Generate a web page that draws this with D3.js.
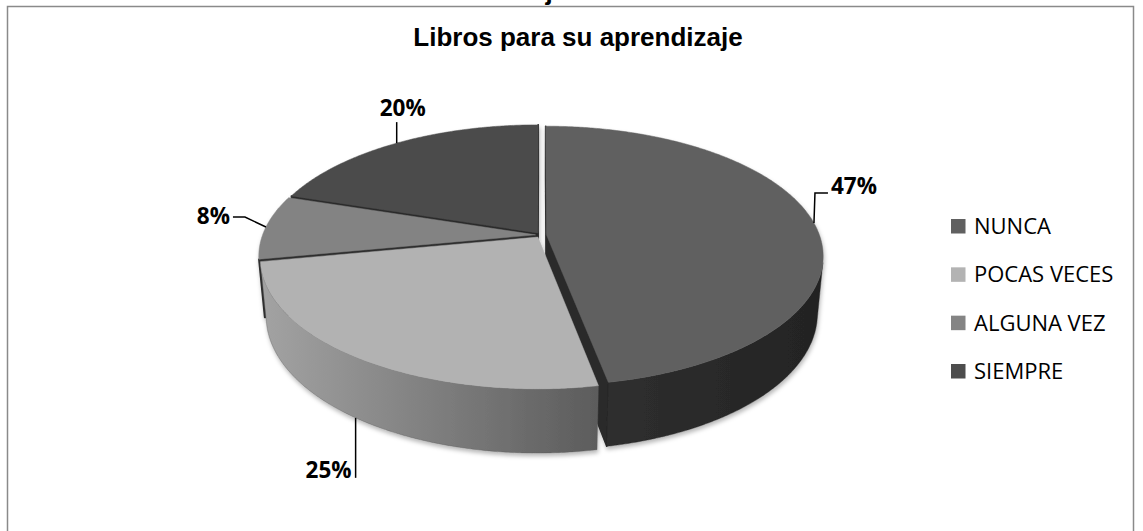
<!DOCTYPE html>
<html><head><meta charset="utf-8">
<script src="https://cdn.jsdelivr.net/npm/d3@7"></script>
<style>html,body{margin:0;padding:0;background:#fff;} svg{display:block;}</style>
</head><body>
<svg id="chart" width="1143" height="531"></svg>
<script>
// ---- data ----
const categories = ["NUNCA", "POCAS VECES", "ALGUNA VEZ", "SIEMPRE"];
const values = [47, 25, 8, 20];
const labelTexts = ["47%", "25%", "8%", "20%"];
const titleText = "Libros para su aprendizaje";

// ---- styles ----
const topColors = ["#616161", "#b2b2b2", "#838383", "#4c4c4c"];
const legendColors = ["#606060", "#b3b3b3", "#848484", "#4d4d4d"];
const sideStops = [["#2f2f2f", "#232323"], ["#a3a3a3", "#5c5c5c"], ["#6a6a6a", "#5a5a5a"], ["#3a3a3a", "#333333"]];
const faceColors = ["#2a2a2a", "#2d2d2d", "#2e2e2e", "#2a2a2a"];

const svg = d3.select("#chart");
const defs = svg.append("defs");
const shadow = defs.append("filter").attr("id", "shadow").attr("x", "-10%").attr("y", "-10%").attr("width", "120%").attr("height", "130%");
shadow.append("feDropShadow").attr("dx", 1).attr("dy", 3).attr("stdDeviation", 2.2).attr("flood-color", "#000").attr("flood-opacity", 0.28);

// frame
svg.append("rect").attr("x", 7.5).attr("y", 6.5).attr("width", 1126).attr("height", 560)
  .attr("fill", "none").attr("stroke", "#8a8a8a").attr("stroke-width", 1.5);

// clipped heading glyph above the frame
svg.append("text").attr("x", 549).attr("y", 0).attr("text-anchor", "middle")
  .attr("font-family", "Liberation Sans, Arial, sans-serif").attr("font-weight", "bold").attr("font-size", 26)
  .text("j");

// title
svg.append("text").attr("x", 578).attr("y", 46).attr("text-anchor", "middle")
  .attr("font-family", "Liberation Sans, Arial, sans-serif").attr("font-weight", "bold").attr("font-size", 26)
  .attr("fill", "#000").text(titleText);

// ---- 3D pie projection ----
const sp = 0.4626, cp = Math.sqrt(1 - sp * sp);
const R = 273, cx = 541, cy = 235, D = 5.45, depth = 0.24, explode = 0.02;
const camY = D * cp;
function proj(X, Y, Z) {
  const v = Y * sp - Z * cp, w = Y * cp + Z * sp, k = D / (D - w);
  return [cx + R * X * k, cy + R * v * k];
}

const arcs = d3.pie().sort(null).value(d => d)(values);
const slices = arcs.map((a, i) => {
  const m = (a.startAngle + a.endAngle) / 2;
  return { i, a0: a.startAngle, a1: a.endAngle, m,
    ox: explode * Math.sin(m), oy: -explode * Math.cos(m) };
});

const pieG = svg.append("g").attr("filter", "url(#shadow)");
const line = d3.line();
const STEP = Math.PI / 360;

function sampleAngles(a0, a1) {
  const n = Math.max(2, Math.ceil((a1 - a0) / STEP));
  return d3.range(n + 1).map(j => a0 + (a1 - a0) * j / n);
}

const order = slices.slice().sort((p, q) => (p.oy - 0.5 * Math.cos(p.m)) - (q.oy - 0.5 * Math.cos(q.m)));

order.forEach(s => {
  const g = pieG.append("g");
  const rim = (t, Z) => proj(s.ox + Math.sin(t), s.oy - Math.cos(t), Z);
  // radial faces
  [[s.a0, -1], [s.a1, 1]].forEach(([a, sgn]) => {
    const nX = sgn * Math.cos(a), nY = sgn * Math.sin(a);
    const dot = nX * (0 - s.ox) + nY * (camY - s.oy);
    if (dot > 0) {
      const pts = [proj(s.ox, s.oy, 0), rim(a, 0), rim(a, -depth), proj(s.ox, s.oy, -depth)];
      g.append("path").attr("d", line(pts) + "Z").attr("fill", faceColors[s.i])
        .attr("stroke", faceColors[s.i]).attr("stroke-width", 1.6).attr("stroke-linejoin", "round");
    }
  });
  // outer side, visible part only
  const vis = sampleAngles(s.a0, s.a1).filter(t => {
    const nX = Math.sin(t), nY = -Math.cos(t);
    const Px = s.ox + nX, Py = s.oy + nY;
    return nX * (0 - Px) + nY * (camY - Py) > 0;
  });
  if (vis.length > 1) {
    const topArc = vis.map(t => rim(t, 0));
    const botArc = vis.slice().reverse().map(t => rim(t, -depth));
    const pts = topArc.concat(botArc);
    const xs = pts.map(p => p[0]);
    const gid = "side" + s.i;
    const gr = defs.append("linearGradient").attr("id", gid).attr("gradientUnits", "userSpaceOnUse")
      .attr("x1", d3.min(xs)).attr("x2", d3.max(xs)).attr("y1", 0).attr("y2", 0);
    gr.append("stop").attr("offset", 0).attr("stop-color", sideStops[s.i][0]);
    gr.append("stop").attr("offset", 1).attr("stop-color", sideStops[s.i][1]);
    g.append("path").attr("d", line(pts) + "Z").attr("fill", `url(#${gid})`)
      .attr("stroke", sideStops[s.i][1]).attr("stroke-width", 0.4);
  }
  // top face
  const topPts = [proj(s.ox, s.oy, 0)].concat(sampleAngles(s.a0, s.a1).map(t => rim(t, 0)));
  g.append("path").attr("d", line(topPts) + "Z").attr("fill", topColors[s.i])
    .attr("stroke", topColors[s.i]).attr("stroke-width", 0.5).attr("stroke-linejoin", "round");
});

// ---- data labels with leader lines ----
const labG = svg.append("g");
const labFont = "Open Sans, Noto Sans, sans-serif";
slices.forEach(s => {
  const onBottom = s.i === 1;
  const t = onBottom ? s.m + 0.035 : s.m;
  const A = proj(s.ox + Math.sin(t), s.oy - Math.cos(t), onBottom ? -depth : 0);
  let pts, tx, ty, anchor;
  if (s.i === 0) { pts = [A, [A[0] + 1, A[1] - 30], [A[0] + 14, A[1] - 30]]; tx = A[0] + 17; ty = A[1] - 29; anchor = "start"; }
  else if (s.i === 1) { pts = [A, [A[0], A[1] + 60]]; tx = A[0] - 4; ty = A[1] + 60; anchor = "end"; }
  else if (s.i === 2) { pts = [A, [A[0] - 21, A[1] - 10], [A[0] - 33, A[1] - 10]]; tx = A[0] - 36; ty = A[1] - 3; anchor = "end"; }
  else { pts = [A, [A[0], A[1] - 21]]; tx = A[0] + 6; ty = A[1] - 27; anchor = "middle"; }
  labG.append("path").attr("d", line(pts)).attr("fill", "none").attr("stroke", "#000").attr("stroke-width", 1.5);
  labG.append("text").attr("x", tx).attr("y", ty).attr("text-anchor", anchor)
    .attr("font-family", labFont).attr("font-weight", "bold").attr("font-size", 22.5).attr("fill", "#000")
    .text(labelTexts[s.i]);
});

// ---- legend ----
const legY = d3.scalePoint().domain(categories).range([226, 371]);
const leg = svg.append("g");
categories.forEach((c, i) => {
  leg.append("rect").attr("x", 951).attr("y", legY(c) - 7).attr("width", 14.5).attr("height", 14.5).attr("fill", legendColors[i]);
  leg.append("text").attr("x", 974).attr("y", legY(c)).attr("dy", "0.36em")
    .attr("font-family", labFont).attr("font-size", 22).attr("fill", "#000").text(c);
});
</script>
</body></html>
